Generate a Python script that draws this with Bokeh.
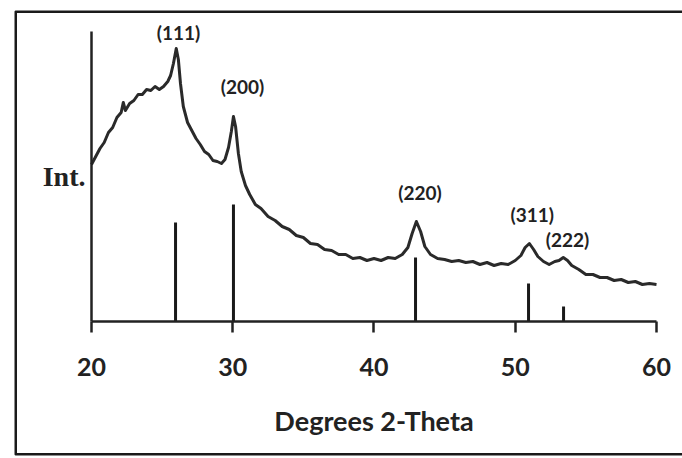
from bokeh.plotting import figure
from bokeh.models import ColumnDataSource, LabelSet, FixedTicker, BoxAnnotation, Range1d
from bokeh.core.properties import value
from bokeh.embed import file_html
from bokeh.resources import INLINE

# ---- data ----
two_theta = [20.0, 20.3, 20.6, 20.9, 21.2, 21.5, 21.8, 22.1, 22.25, 22.4, 22.7, 23.0, 23.3,
             23.6, 23.9, 24.2, 24.5, 24.8, 25.1, 25.4, 25.6, 25.8, 26.0, 26.15, 26.3, 26.5,
             26.8, 27.1, 27.4, 27.7, 28.0, 28.3, 28.6, 28.9, 29.2, 29.45, 29.7, 29.9, 30.05,
             30.2, 30.4, 30.6, 30.9, 31.2, 31.6, 32.0, 32.5, 33.0, 33.5, 34.0, 34.5, 35.0,
             35.5, 36.0, 36.5, 37.0, 37.5, 38.0, 38.5, 39.0, 39.5, 40.0, 40.5, 41.0, 41.5,
             42.0, 42.4, 42.7, 43.0, 43.3, 43.6, 44.0, 44.5, 45.0, 45.5, 46.0, 46.5, 47.0,
             47.5, 48.0, 48.5, 49.0, 49.5, 50.0, 50.4, 50.7, 51.0, 51.3, 51.6, 52.0, 52.4,
             52.8, 53.1, 53.4, 53.7, 54.0, 54.5, 55.0, 55.5, 56.0, 56.5, 57.0, 57.5, 58.0,
             58.5, 59.0, 59.5, 60.0]
intensity = [157, 165, 173, 179, 189, 194, 204, 209, 219, 211, 218, 221, 227,
             227, 232, 231, 235, 232, 235, 240, 246, 258, 273, 262, 238, 215,
             199, 191, 183, 177, 170, 167, 161, 160, 158, 162, 174, 190, 205,
             195, 168, 150, 136, 127, 117, 113, 105, 101, 95, 92, 86, 84,
             78, 77, 72, 71, 67, 67, 63, 64, 61, 63, 61, 64, 63,
             67, 74, 88, 100, 90, 75, 67, 63, 62, 60, 61, 59, 60,
             57, 59, 56, 58, 57, 61, 66, 74, 78, 72, 65, 60, 57,
             60, 61, 64, 61, 56, 52, 47, 47, 44, 44, 41, 42, 39,
             40, 37, 38, 37]

ref_pos = [25.95, 30.05, 42.94, 50.94, 53.42]
ref_height = [99, 117, 64, 38, 15]

hkl_text = ["(111)", "(200)", "(220)", "(311)", "(222)"]
hkl_x = [26.16, 30.69, 43.26, 51.2, 53.7]
hkl_y = [289, 235, 129, 107, 82]

x_ticks = [20, 30, 40, 50, 60]
x_bounds = (20, 60)
y_bounds = (0, 290)
x_title = "Degrees 2-Theta"
y_title = "Int."

INK = "#222222"

# the plot frame is the outer boxed area of the picture; the axes sit inside it
p = figure(width=682, height=458,
           x_range=Range1d(14.5487, 61.8407), y_range=Range1d(-134, 311),
           output_backend="svg", toolbar_location=None,
           min_border_left=14, min_border_right=0, min_border_top=10, min_border_bottom=3)
p.background_fill_color = "white"
p.border_fill_color = "white"
p.outline_line_color = None
p.xgrid.visible = False
p.ygrid.visible = False

# x axis
xa = p.xaxis[0]
xa.fixed_location = y_bounds[0]
xa.bounds = x_bounds
xa.ticker = FixedTicker(ticks=x_ticks)
xa.minor_tick_line_color = None
xa.major_tick_in = 0
xa.major_tick_out = 11
xa.major_tick_line_width = 2.5
xa.major_tick_line_color = INK
xa.axis_line_width = 2.5
xa.axis_line_color = INK
xa.major_label_text_font = "Lato"
xa.major_label_text_font_style = "bold"
xa.major_label_text_font_size = "25px"
xa.major_label_text_color = INK
xa.major_label_standoff = 25
xa.axis_label = x_title
xa.axis_label_text_font = "Lato"
xa.axis_label_text_font_style = "bold"
xa.axis_label_text_font_size = "27px"
xa.axis_label_text_color = INK
xa.axis_label_standoff = 25

# y axis
ya = p.yaxis[0]
ya.fixed_location = x_bounds[0]
ya.bounds = y_bounds
ya.ticker = FixedTicker(ticks=[])
ya.major_tick_line_color = None
ya.minor_tick_line_color = None
ya.axis_line_width = 2.5
ya.axis_line_color = INK
ya.axis_label = y_title
ya.axis_label_orientation = "horizontal"
ya.axis_label_text_font = "Liberation Serif"
ya.axis_label_text_font_style = "bold"
ya.axis_label_text_font_size = "28px"
ya.axis_label_text_color = INK
ya.axis_label_standoff = 6

# reference sticks
p.segment(x0=ref_pos, y0=[0] * len(ref_pos), x1=ref_pos, y1=ref_height,
          line_width=3, line_color="#1a1a1a")

# pattern
p.line(two_theta, intensity, line_width=3, line_color="#2a2a2a", line_join="round")

# hkl labels
src = ColumnDataSource(dict(x=hkl_x, y=hkl_y, t=hkl_text))
p.add_layout(LabelSet(x="x", y="y", text="t", source=src, text_align="center",
                      text_baseline="middle", text_font=value("Lato"),
                      text_font_style="bold", text_font_size="19px", text_color=INK))

# outer box of the picture (open on the right, as in the scan)
p.add_layout(BoxAnnotation(left=15, right=720, top=11, bottom=454,
                           left_units="canvas", right_units="canvas",
                           top_units="canvas", bottom_units="canvas",
                           fill_color=None, fill_alpha=0,
                           line_color="#1a1a1a", line_alpha=1.0, line_width=3))

open("out.html", "w").write(file_html(p, INLINE))
